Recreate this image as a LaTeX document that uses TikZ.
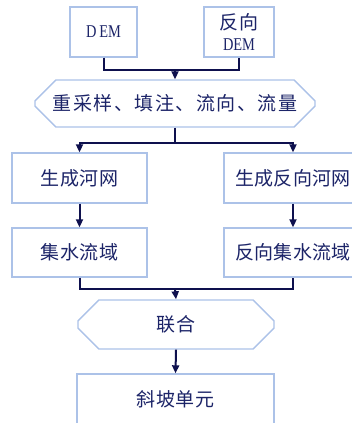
\documentclass[tikz,border=0pt]{standalone}
\usepackage{fontspec}
\setmainfont{Liberation Serif}
\newfontfamily\cjk{Noto Sans CJK SC}
\newfontfamily\demfont[FakeStretch=0.8]{Liberation Serif}
\usetikzlibrary{arrows.meta,shapes.misc}
\definecolor{boxline}{RGB}{172,194,232}
\definecolor{txt}{RGB}{28,36,104}
\definecolor{conn}{RGB}{14,16,78}
\tikzset{
  flowbox/.style={draw=boxline, line width=1.4pt, fill=white, text=txt, inner sep=0pt, font=\cjk\fontsize{19}{23}\selectfont},
  chambox/.style={flowbox, chamfered rectangle, chamfered rectangle xsep=18pt, chamfered rectangle ysep=12pt},
  conline/.style={draw=conn, line width=2pt},
  conarrow/.style={conline, -{Triangle[width=7pt,length=8pt]}}
}
\begin{document}
\begin{tikzpicture}[x=1pt,y=-1pt]
\useasboundingbox (0,0) rectangle (352,423);
\clip (0,0) rectangle (352,423);
% top inputs
\node[flowbox, minimum width=67pt, minimum height=50pt, font=\demfont\fontsize{18}{20}\selectfont] (dem) at (103.5,32) {D\hspace{3pt}EM};
\node[flowbox, minimum width=70pt, minimum height=50pt, align=center] (rdem) at (239,32) {{\cjk\addfontfeature{LetterSpace=3}反向}\\[-2pt]{\demfont\fontsize{18}{20}\selectfont DEM}};
% processing
\node[chambox, minimum width=280pt, minimum height=47pt] (proc) at (175,103.5) {\addfontfeature{LetterSpace=8}重采样、填注、流向、流量};
% rivers
\node[flowbox, minimum width=135pt, minimum height=50pt] (riv) at (79.5,178) {\addfontfeature{LetterSpace=4}生成河网};
\node[flowbox, minimum width=138pt, minimum height=50pt] (rriv) at (293,178) {\addfontfeature{LetterSpace=1}生成反向河网};
% basins
\node[flowbox, minimum width=135pt, minimum height=49pt] (bas) at (79.5,252.5) {\addfontfeature{LetterSpace=4}集水流域};
\node[flowbox, minimum width=138pt, minimum height=49pt] (rbas) at (293,252.5) {\addfontfeature{LetterSpace=1}反向集水流域};
% union
\node[chambox, minimum width=196pt, minimum height=49pt] (uni) at (176,324.5) {\addfontfeature{LetterSpace=4}联合};
% slope
\node[flowbox, minimum width=197pt, minimum height=51pt] (slope) at (175.5,399.5) {\addfontfeature{LetterSpace=4}斜坡单元};
% connectors
\coordinate (j1) at (175,70);
\coordinate (j2) at (175,143);
\coordinate (j3) at (175,289);
\draw[conline] (dem.south) |- (j1) -| (rdem.south);
\draw[conarrow] (j1) -- (proc.north);
\draw[conline] (proc.south) -- (j2);
\draw[conarrow] (j2) -| (riv.north);
\draw[conarrow] (j2) -| (rriv.north);
\draw[conarrow] (riv.south) -- (bas.north);
\draw[conarrow] (rriv.south) -- (rbas.north);
\draw[conline] (bas.south) |- (j3) -| (rbas.south);
\draw[conarrow] (j3) -- (uni.north);
\draw[conarrow] (uni.south) -- (slope.north);
\end{tikzpicture}
\end{document}
